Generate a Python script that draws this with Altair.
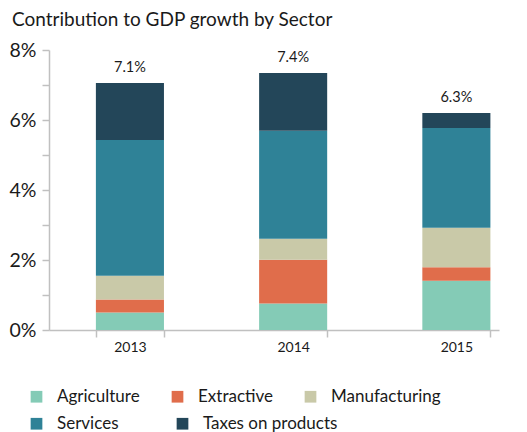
import altair as alt
import pandas as pd

years = ["2013", "2014", "2015"]
sectors = ["Agriculture", "Extractive", "Manufacturing", "Services", "Taxes on products"]
colors = ["#84CBB6", "#E06D4B", "#C9C9A8", "#2F8297", "#234659"]
agriculture = [0.50, 0.76, 1.41]
extractive = [0.37, 1.25, 0.38]
manufacturing = [0.68, 0.60, 1.13]
services = [3.88, 3.08, 2.85]
taxes = [1.63, 1.65, 0.43]
total_labels = ["7.1%", "7.4%", "6.3%"]
y_ticks = [0, 1, 2, 3, 4, 5, 6, 7, 8]

series = [agriculture, extractive, manufacturing, services, taxes]
rows = []
for si, (s, vals) in enumerate(zip(sectors, series)):
    for yr, v in zip(years, vals):
        rows.append({"year": yr, "sector": s, "order": si, "value": v})
df = pd.DataFrame(rows)
totals = pd.DataFrame({
    "year": years,
    "total": [sum(v[i] for v in series) for i in range(len(years))],
    "label": total_labels,
})

FONT = "Lato"
TXT = "#1a1a1a"
AX = "#c0c0c0"

x_enc = alt.X(
    "year:N", title=None,
    scale=alt.Scale(paddingInner=0.583, paddingOuter=0.17, align=0.845),
    axis=alt.Axis(labelAngle=0, tickBand="extent", tickSize=7, tickWidth=1.5,
                  tickColor=AX, domainColor=AX, domainWidth=1.5,
                  labelPadding=3, labelFontSize=14, labelFont=FONT, labelColor=TXT),
)
y_scale = alt.Scale(domain=[0, 8], nice=False)
y_axis = alt.Axis(values=y_ticks, labelExpr="datum.value % 2 == 0 ? datum.value + '%' : ''",
                  grid=False, tickSize=7, tickWidth=1.5, tickColor=AX, domainColor=AX,
                  domainWidth=1.5, labelPadding=6, labelFontSize=19.5, labelFont=FONT,
                  labelColor=TXT)

base = alt.Chart(df).transform_stack(
    stack="value", groupby=["year"], as_=["y0", "y1"],
    sort=[alt.SortField("order", "ascending")],
)

def legend(xpos, ypos, pad):
    return alt.Legend(title=None, orient="none", legendX=xpos, legendY=ypos,
                      direction="horizontal", columnPadding=pad, padding=0,
                      symbolType="square", symbolSize=137, symbolStrokeWidth=0,
                      labelFontSize=17, labelFont=FONT, labelColor=TXT, labelOffset=12)

layer_a = base.transform_filter("datum.order < 3").mark_bar().encode(
    x=x_enc,
    y=alt.Y("y0:Q", title=None, scale=y_scale, axis=y_axis),
    y2="y1:Q",
    color=alt.Color("sector:N", sort=sectors[:3],
                    scale=alt.Scale(domain=sectors[:3], range=colors[:3]),
                    legend=legend(-21, 338, 29)),
)
layer_b = base.transform_filter("datum.order >= 3").mark_bar().encode(
    x=x_enc,
    y=alt.Y("y0:Q", title=None, scale=y_scale, axis=y_axis),
    y2="y1:Q",
    color=alt.Color("sector:N", sort=sectors[3:],
                    scale=alt.Scale(domain=sectors[3:], range=colors[3:]),
                    legend=legend(-21, 365, 55)),
)
text = alt.Chart(totals).mark_text(baseline="bottom", dy=-8, fontSize=14.5, font=FONT, color=TXT).encode(
    x=x_enc,
    y=alt.Y("total:Q", title=None, scale=y_scale, axis=y_axis),
    text="label:N",
)

chart = alt.layer(layer_a, layer_b, text).resolve_scale(color="independent").properties(
    width=450, height=280,
    autosize=alt.AutoSizeParams(type="none"),
    padding={"left": 41, "top": 42, "right": 20, "bottom": 102},
    title=alt.TitleParams("Contribution to GDP growth by Sector", anchor="start", frame="group",
                          fontSize=19, font=FONT, fontWeight="normal", color=TXT, dx=-37, dy=2,
                          offset=12),
).configure_view(stroke=None)

chart.save("out.html", embed_options={"renderer": "svg", "actions": False})
